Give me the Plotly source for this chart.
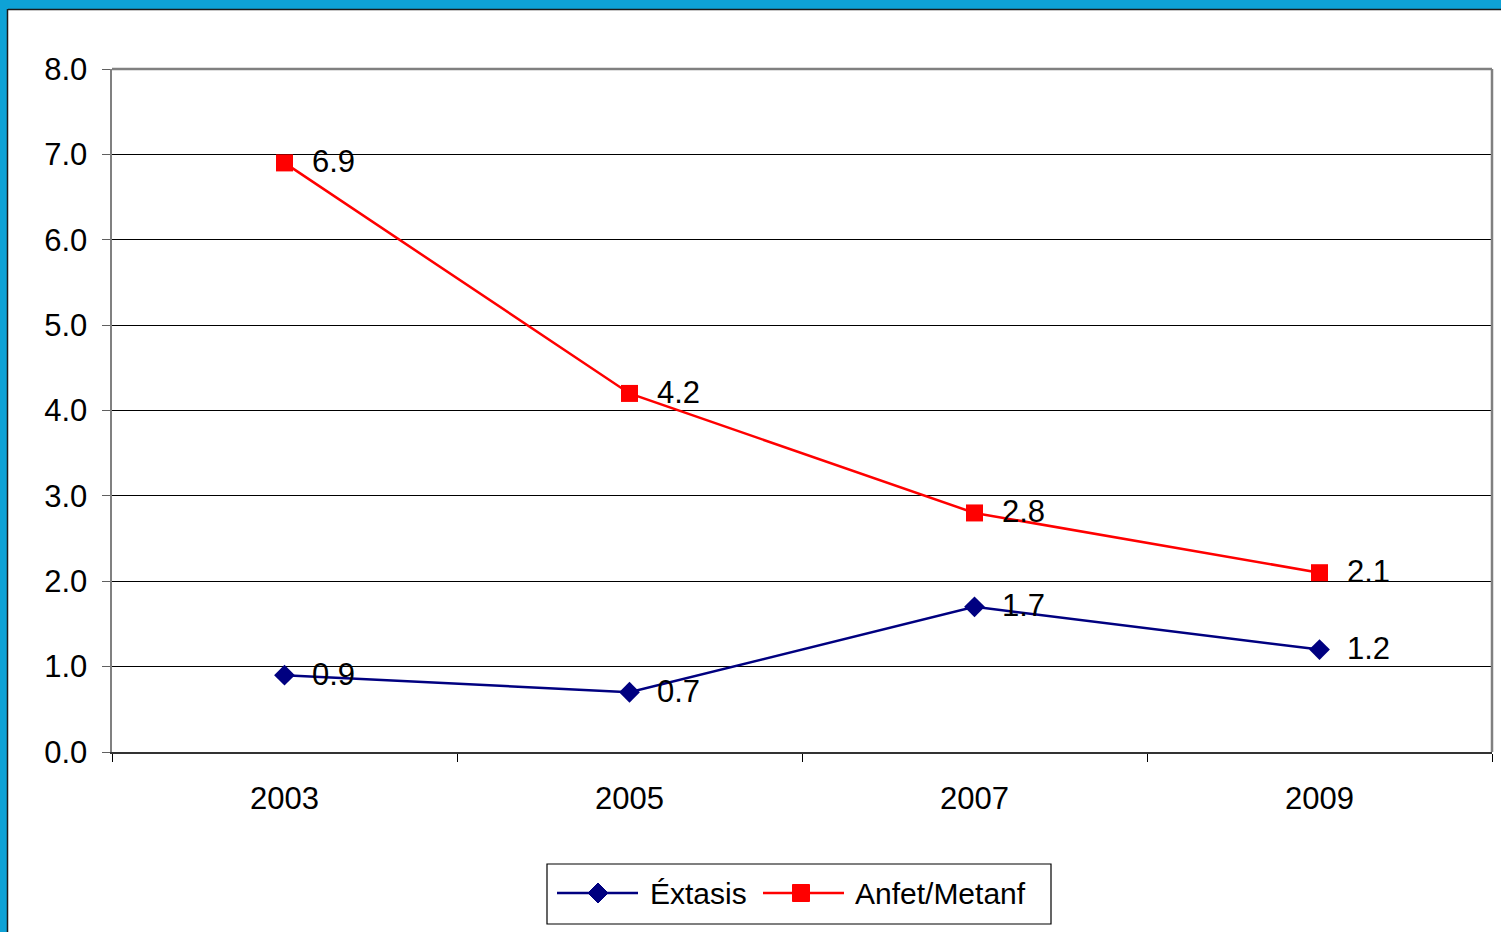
import plotly.graph_objects as go

years = ["2003", "2005", "2007", "2009"]
extasis = [0.9, 0.7, 1.7, 1.2]
anfet = [6.9, 4.2, 2.8, 2.1]
y_ticks = [0, 1, 2, 3, 4, 5, 6, 7, 8]
series_names = ["Éxtasis", "Anfet/Metanf"]
series_colors = ["#000080", "#ff0000"]

W, H = 1501, 932
L, R, T, B = 112, 9, 69, 180
pw, ph = W - L - R, H - T - B

def px_x(p):
    return (p - L) / pw

def px_y(p):
    return (H - B - p) / ph

FONT = "Liberation Sans, Arial, sans-serif"
FS = 31

fig = go.Figure()
fig.add_trace(go.Scatter(
    x=years, y=extasis, name=series_names[0], mode="lines+markers",
    line=dict(color=series_colors[0], width=2.5),
    marker=dict(symbol="diamond", size=16, color=series_colors[0]),
    cliponaxis=False, showlegend=False, hoverinfo="skip",
))
fig.add_trace(go.Scatter(
    x=years, y=anfet, name=series_names[1], mode="lines+markers",
    line=dict(color=series_colors[1], width=2.5),
    marker=dict(symbol="square", size=17, color=series_colors[1]),
    cliponaxis=False, showlegend=False, hoverinfo="skip",
))

annotations = []
for vals in (extasis, anfet):
    for i, v in enumerate(vals):
        annotations.append(dict(
            x=i, y=v, xref="x", yref="y", text=f"{v:.1f}", showarrow=False,
            xanchor="left", yanchor="middle", xshift=25, yshift=1,
            font=dict(size=FS, family=FONT, color="black"),
        ))

shapes = [
    # blue page border (top and left)
    dict(type="rect", xref="paper", yref="paper", x0=px_x(-5), x1=px_x(W + 5),
         y0=px_y(9), y1=px_y(-5), fillcolor="#0ea2d6", line_width=0, layer="above"),
    dict(type="rect", xref="paper", yref="paper", x0=px_x(-5), x1=px_x(7),
         y0=px_y(H + 5), y1=px_y(-5), fillcolor="#0ea2d6", line_width=0, layer="above"),
    dict(type="line", xref="paper", yref="paper", x0=px_x(8), x1=px_x(W + 5),
         y0=px_y(9.5), y1=px_y(9.5), line=dict(color="#1a1a1a", width=1.5), layer="above"),
    dict(type="line", xref="paper", yref="paper", x0=px_x(7.5), x1=px_x(7.5),
         y0=px_y(H + 5), y1=px_y(9), line=dict(color="#1a1a1a", width=1.5), layer="above"),
    # plot frame top and right (gray)
    dict(type="line", xref="paper", yref="paper", x0=0, x1=1, y0=1, y1=1,
         line=dict(color="#808080", width=2.5)),
    dict(type="line", xref="paper", yref="paper", x0=1, x1=1, y0=0, y1=1,
         line=dict(color="#808080", width=2.5)),
    # legend box
    dict(type="rect", xref="paper", yref="paper", x0=px_x(547), x1=px_x(1051),
         y0=px_y(924), y1=px_y(864), line=dict(color="black", width=1.2),
         fillcolor="white"),
]

# legend entries
leg_y = 893
leg_items = [
    (557, 638, 598, 648),
    (763, 844, 801, 853),
]
for (lx0, lx1, mx, tx), name, col, sym in zip(leg_items, series_names, series_colors,
                                              ["diamond", "square"]):
    shapes.append(dict(type="line", xref="paper", yref="paper", x0=px_x(lx0), x1=px_x(lx1),
                       y0=px_y(leg_y), y1=px_y(leg_y), line=dict(color=col, width=2.5)))
    if sym == "diamond":
        r = 10
        path = (f"M {px_x(mx - r)} {px_y(leg_y)} L {px_x(mx)} {px_y(leg_y - r)} "
                f"L {px_x(mx + r)} {px_y(leg_y)} L {px_x(mx)} {px_y(leg_y + r)} Z")
        shapes.append(dict(type="path", xref="paper", yref="paper", path=path,
                           fillcolor=col, line=dict(color=col, width=1)))
    else:
        r = 8.5
        shapes.append(dict(type="rect", xref="paper", yref="paper",
                           x0=px_x(mx - r), x1=px_x(mx + r),
                           y0=px_y(leg_y + r), y1=px_y(leg_y - r),
                           fillcolor=col, line=dict(color=col, width=1)))
    annotations.append(dict(
        x=px_x(tx), y=px_y(leg_y), xref="paper", yref="paper", text=name,
        showarrow=False, xanchor="left", yanchor="middle",
        font=dict(size=30, family=FONT, color="black"),
    ))

fig.update_layout(
    width=W, height=H,
    margin=dict(l=L, r=R, t=T, b=B),
    paper_bgcolor="white", plot_bgcolor="white",
    font=dict(family=FONT, size=FS, color="black"),
    showlegend=False,
    hovermode=False,
    shapes=shapes,
    annotations=annotations,
    xaxis=dict(
        type="category", categoryorder="array", categoryarray=years,
        range=[-0.5, 3.5], tickson="boundaries", ticks="outside", ticklen=8,
        tickcolor="black", showline=True, linecolor="#333333", linewidth=2,
        showgrid=False, zeroline=False, tickfont=dict(size=FS),
        ticklabelstandoff=18,
    ),
    yaxis=dict(
        range=[0, 8], tickvals=y_ticks, tickformat=".1f", ticks="outside",
        ticklen=8, tickcolor="#606060", showline=True, linecolor="#808080",
        linewidth=2.5, showgrid=True, gridcolor="black", gridwidth=1,
        zeroline=False, tickfont=dict(size=FS), ticklabelstandoff=8,
    ),
)

fig.write_html(
    "out.html",
    config={"displayModeBar": False, "staticPlot": True},
    post_script="document.body.style.margin='0';document.body.style.padding='0';"
                "document.body.style.overflow='hidden';",
)
